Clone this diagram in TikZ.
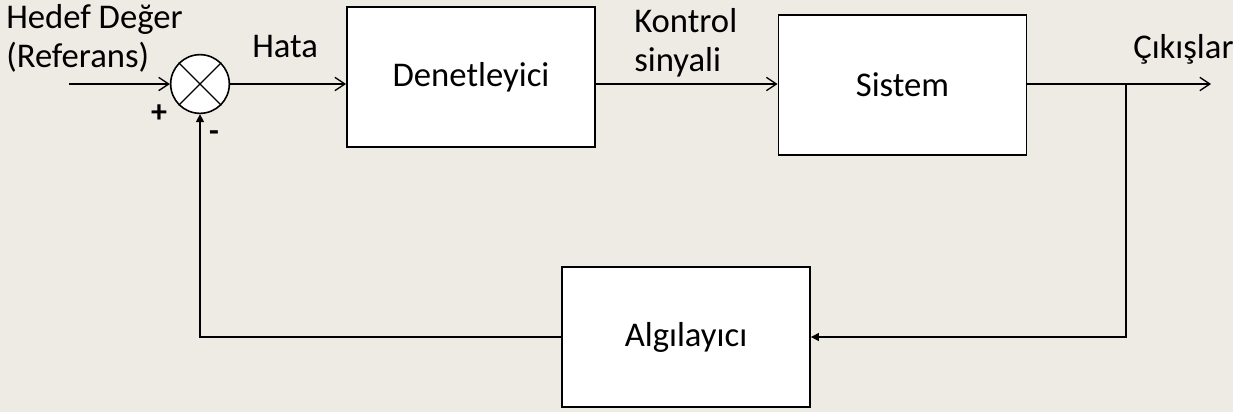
\documentclass[tikz,border=0pt]{standalone}
\usepackage{fontspec}
\setmainfont{Carlito}
\usetikzlibrary{arrows.meta,calc}
\definecolor{bg}{RGB}{238,235,228}
\begin{document}
\begin{tikzpicture}[x=0.75pt,y=-0.75pt,
  font=\fontsize{26}{31}\selectfont,
  blk/.style={draw=black,fill=white,line width=1.4pt,minimum width=186pt,minimum height=105pt,inner sep=0pt},
  sumj/.style={draw=black,fill=white,circle,line width=1.2pt,minimum size=44pt,inner sep=0pt},
  fwd/.style={line width=1pt,-{Straight Barb[length=7.5pt,width=10pt,line width=1pt]}},
  fb/.style={line width=1pt,-{Triangle[length=6pt,width=6pt]}},
  lbl/.style={anchor=base west,inner sep=0pt}]
\fill[bg] (0,0) rectangle (1233,412);
\useasboundingbox (0,0) rectangle (1233,412);
\node[blk] (den) at (471,77) {Denetleyici};
\node[blk] (sis) at (902.5,85) {Sistem};
\node[blk] (alg) at (686,337) {Algılayıcı};
\node[sumj] (sum) at (200,84) {};
\draw[line width=1pt] (sum.north west) -- (sum.south east) (sum.north east) -- (sum.south west);
\coordinate (in) at (69,84);
\coordinate (out) at (1211,84);
\coordinate (br) at (1126,84);
\draw[fwd] (in) -- (sum.west);
\draw[fwd] (sum.east) -- (sum.east -| den.west);
\draw[fwd] (den.east |- sum) -- (sis.west |- sum);
\draw[fwd] (sis.east |- sum) -- (out);
\draw[fb] (br) |- (alg.east);
\draw[fb] (alg.west) -| (sum.south);
\node[lbl] (t1) at (6,28) {Hedef Değer};
\node[lbl] (t2) at (6,67) {(Referans)};
\node[lbl] (t3) at (252,57) {Hata};
\node[lbl] (t4) at (634,32) {Kontrol};
\node[lbl] (t5) at (634,71) {sinyali};
\node[lbl] (t6) at (1133,58) {Çıkışlar};
\node[font=\fontsize{24}{28}\selectfont\bfseries,inner sep=0pt] (pl) at (159,114) {+};
\node[font=\fontsize{24}{28}\selectfont\bfseries,inner sep=0pt] (mi) at (214,136) {-};
\end{tikzpicture}
\end{document}
